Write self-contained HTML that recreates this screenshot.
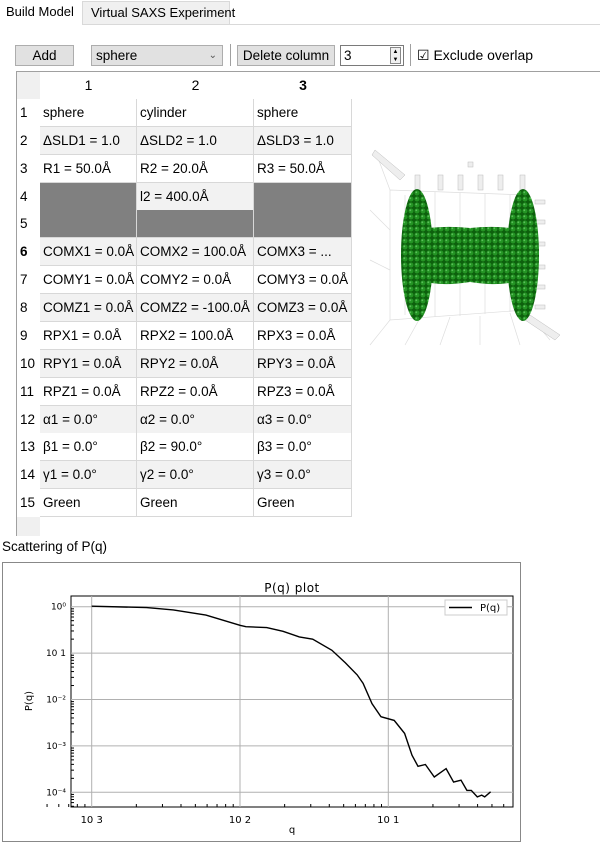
<!DOCTYPE html>
<html><head><meta charset="utf-8">
<style>
*{box-sizing:border-box;margin:0;padding:0}
body{width:600px;height:838px;background:#fff;font-family:"Liberation Sans",sans-serif;font-size:13px;color:#000;position:relative;overflow:hidden}
.a{position:absolute}
.tab{position:absolute;top:0;height:25px;line-height:24px;font-size:13px;padding:0 6px;white-space:nowrap}
.btn{position:absolute;top:45px;height:21px;background:#e1e1e1;border:1px solid #adadad;text-align:center;line-height:19px;font-size:13.5px;white-space:nowrap}
.cell{position:absolute;height:28px;line-height:27px;padding-left:3px;font-size:13.5px;border-right:1px solid #d8d8d8;border-bottom:1px solid #d8d8d8;white-space:nowrap;overflow:hidden}
.rh{position:absolute;left:17px;width:23px;height:28px;line-height:27px;padding-left:3px;font-size:13.5px;background:#fff}
</style></head><body>
<div class="a" style="left:0;top:24px;width:600px;height:1px;background:#d9d9d9"></div>
<div class="tab" style="left:0;width:82px;background:#fff;z-index:2">Build Model</div>
<div class="tab" style="left:82px;width:148px;background:#f0f0f0;border:1px solid #d9d9d9;border-bottom:none;top:1px;height:23px;line-height:22px;padding-left:8px">Virtual SAXS Experiment</div>

<div class="btn" style="left:15px;width:59px">Add</div>
<div class="btn" style="left:91px;width:132px;text-align:left;padding-left:4px">sphere<span style="position:absolute;right:5px;top:0;font-size:10px;color:#555">⌄</span></div>
<div class="a" style="left:230px;top:44px;width:1px;height:22px;background:#a0a0a0"></div>
<div class="btn" style="left:237px;width:98px">Delete column</div>
<div class="a" style="left:340px;top:45px;width:64px;height:21px;border:1px solid #7a7a7a;background:#fff;line-height:19px;padding-left:3px;font-size:13.5px">3<div class="a" style="right:2px;top:1px;width:11px;height:17px;border:1px solid #888;background:#f0f0f0;font-size:6px;line-height:8px;text-align:center">▲<br>▼</div></div>
<div class="a" style="left:410px;top:44px;width:1px;height:22px;background:#a0a0a0"></div>
<div class="a" style="left:417px;top:46px;font-size:14px;line-height:19px;white-space:nowrap">☑ Exclude overlap</div>

<div class="a" style="left:16px;top:71px;width:590px;height:465px;border-left:1px solid #a0a0a0;border-top:1px solid #a0a0a0"></div>
<div class="a" style="left:17px;top:72px;width:23px;height:464px;background:#f0f0f0"></div>
<div id="tbl"></div>

<svg class="a" style="left:360px;top:130px" width="200" height="220">
<g stroke="#ddd" stroke-width="0.7" fill="none">
<path d="M30 60 L165 65 L165 180 L30 190 Z"/><path d="M45 65 L45 185 M75 62 L75 187 M100 63 L100 186 M125 64 L125 184 M150 65 L150 182"/>
<path d="M30 190 L10 215 M60 188 L45 215 M90 187 L80 215 M120 186 L120 215 M150 183 L160 215 M165 180 L190 210"/>
<path d="M30 60 L15 20 M30 100 L10 80 M30 140 L10 130"/>
</g>
<g fill="#eee" stroke="#bbb" stroke-width="0.5">
<rect x="55" y="45" width="5" height="15"/><rect x="78" y="45" width="5" height="15"/><rect x="98" y="45" width="5" height="15"/><rect x="118" y="45" width="5" height="15"/><rect x="138" y="45" width="5" height="15"/><rect x="160" y="45" width="5" height="15"/><rect x="108" y="32" width="5" height="5"/>
<rect x="175" y="70" width="10" height="4"/><rect x="175" y="90" width="10" height="4"/><rect x="175" y="112" width="10" height="4"/><rect x="175" y="135" width="10" height="4"/><rect x="175" y="155" width="10" height="4"/><rect x="175" y="175" width="10" height="4"/>
<path d="M15 20 L45 45 L40 50 L12 25Z M170 185 L200 205 L195 210 L165 190Z"/>
</g>
<defs><pattern id="dots" width="6" height="6" patternUnits="userSpaceOnUse"><rect width="6" height="6" fill="#0d600d"/><circle cx="3" cy="3" r="2.5" fill="#249424"/><circle cx="2.3" cy="2.3" r="0.9" fill="#5cc05c"/></pattern></defs>
<path d="M58 100 Q80 95 110 98 Q140 95 162 100 L162 150 Q140 157 110 152 Q80 157 58 150 Z" fill="url(#dots)"/>
<ellipse cx="57" cy="125" rx="16" ry="66" fill="url(#dots)"/>
<ellipse cx="163" cy="125" rx="16" ry="66" fill="url(#dots)"/>
</svg>

<div class="a" style="left:2px;top:539px;font-size:13.5px">Scattering of P(q)</div>
<div class="a" style="left:2px;top:562px;width:519px;height:280px;border:1px solid #888"></div>
<svg class="a" id="chart" style="left:0;top:0" width="600" height="838"></svg>

<script>
const rows=[
["sphere","cylinder","sphere"],
["ΔSLD1 = 1.0","ΔSLD2 = 1.0","ΔSLD3 = 1.0"],
["R1 = 50.0Å","R2 = 20.0Å","R3 = 50.0Å"],
[null,"l2 = 400.0Å",null],
[null,null,null],
["COMX1 = 0.0Å","COMX2 = 100.0Å","COMX3 = ..."],
["COMY1 = 0.0Å","COMY2 = 0.0Å","COMY3 = 0.0Å"],
["COMZ1 = 0.0Å","COMZ2 = -100.0Å","COMZ3 = 0.0Å"],
["RPX1 = 0.0Å","RPX2 = 100.0Å","RPX3 = 0.0Å"],
["RPY1 = 0.0Å","RPY2 = 0.0Å","RPY3 = 0.0Å"],
["RPZ1 = 0.0Å","RPZ2 = 0.0Å","RPZ3 = 0.0Å"],
["α1 = 0.0°","α2 = 0.0°","α3 = 0.0°"],
["β1 = 0.0°","β2 = 90.0°","β3 = 0.0°"],
["γ1 = 0.0°","γ2 = 0.0°","γ3 = 0.0°"],
["Green","Green","Green"]];
const colX=[40,137,254,352];
const tbl=document.getElementById('tbl');
let h='';
for(let c=0;c<3;c++){
h+=`<div class="a" style="left:${colX[c]}px;top:72px;width:${colX[c+1]-colX[c]}px;height:27px;line-height:27px;text-align:center;font-size:14px;${c==2?'font-weight:bold':''};background:#fff">${c+1}</div>`;
}
rows.forEach((r,i)=>{
const y=99+i*27.87;
h+=`<div class="rh" style="top:${y}px;${i==5?'font-weight:bold':''}">${i+1}</div>`;
r.forEach((v,c)=>{
const bg=v===null?'#808080':(i%2==1?'#f2f2f2':'#fff');
h+=`<div class="cell" style="left:${colX[c]}px;top:${y}px;width:${colX[c+1]-colX[c]}px;background:${bg}">${v||''}</div>`;
});
});
tbl.innerHTML=h;
</script>
<script>
const logQ=[-3,-2.63,-2.45,-2.23,-2.0,-1.96,-1.82,-1.71,-1.6,-1.51,-1.38,-1.29,-1.21,-1.17,-1.11,-1.05,-0.96,-0.89,-0.84,-0.8,-0.75,-0.69,-0.61,-0.56,-0.51,-0.47,-0.44,-0.4,-0.37,-0.35,-0.31];
const logP=[0.01,-0.02,-0.07,-0.18,-0.4,-0.43,-0.45,-0.53,-0.65,-0.7,-0.94,-1.21,-1.47,-1.65,-2.09,-2.37,-2.45,-2.73,-3.2,-3.44,-3.4,-3.67,-3.49,-3.78,-3.74,-3.96,-3.96,-4.1,-4.06,-4.1,-3.99];
const xTickExp=[-3,-2,-1];
const xTickLabels=["10 3","10 2","10 1"];
const yTickExp=[0,-1,-2,-3,-4];
const yTickLabels=["10⁰","10 1","10⁻²","10⁻³","10⁻⁴"];
const svg=document.getElementById('chart');
const L=71,R=513,T=596,B=807;
const X=v=>91.7+(v+3)*148.3;
const Y=v=>606.7-v*46.4;
const ns='http://www.w3.org/2000/svg';
function mk(tag,a,p){const e=document.createElementNS(ns,tag);for(const k in a)e.setAttribute(k,a[k]);(p||svg).appendChild(e);return e;}
let e=mk('text',{x:(L+R)/2,y:592,'text-anchor':'middle','font-size':12,'font-family':'DejaVu Sans,sans-serif','letter-spacing':'0.5'});e.textContent='P(q) plot';

const ax=mk('rect',{x:L,y:T,width:R-L,height:B-T,fill:'#fff',stroke:'#000','stroke-width':1});

xTickExp.forEach((v,i)=>{
const g=mk('line',{x1:X(v),x2:X(v),y1:T,y2:B,stroke:'#b0b0b0','stroke-width':1});

const t=mk('text',{x:X(v),y:823,'text-anchor':'middle','font-size':10,'font-family':'DejaVu Sans,sans-serif'});t.textContent=xTickLabels[i];

for(let k=2;k<10;k++){const xx=X(v+Math.log10(k));if(xx<R)mk('line',{x1:xx,x2:xx,y1:B,y2:B-3,stroke:'#000'});}
});
for(let k=5;k<10;k++)mk('line',{x1:X(-4+Math.log10(k)),x2:X(-4+Math.log10(k)),y1:B,y2:B-3,stroke:'#000'});
yTickExp.forEach((v,i)=>{
const g=mk('line',{x1:L,x2:R,y1:Y(v),y2:Y(v),stroke:'#b0b0b0','stroke-width':1});

const t=mk('text',{x:L-5,y:Y(v)+3,'text-anchor':'end','font-size':9,'font-family':'DejaVu Sans,sans-serif'});t.textContent=yTickLabels[i];

for(let k=2;k<10;k++){const yy=Y(v-1+Math.log10(k));if(yy>T&&yy<B)mk('line',{x1:L,x2:L+3,y1:yy,y2:yy,stroke:'#000'});}
});
let d='';logQ.forEach((q,i)=>{d+=(i?'L':'M')+X(q).toFixed(1)+' '+Y(logP[i]).toFixed(1);});
const ln=mk('path',{d:d,fill:'none',stroke:'#000','stroke-width':1.4});

const lg=mk('rect',{x:445,y:600,width:62,height:15,fill:'#fff',stroke:'#ccc'});

mk('line',{x1:449,x2:472,y1:607.5,y2:607.5,stroke:'#000','stroke-width':1.4});
e=mk('text',{x:480,y:611,'font-size':10,'font-family':'DejaVu Sans,sans-serif'});e.textContent='P(q)';

e=mk('text',{x:292,y:833,'text-anchor':'middle','font-size':10,'font-family':'DejaVu Sans,sans-serif'});e.textContent='q';

e=mk('text',{x:32,y:701,'text-anchor':'middle','font-size':10,'font-family':'DejaVu Sans,sans-serif',transform:'rotate(-90 32 701)'});e.textContent='P(q)';

</script>
</body></html>
